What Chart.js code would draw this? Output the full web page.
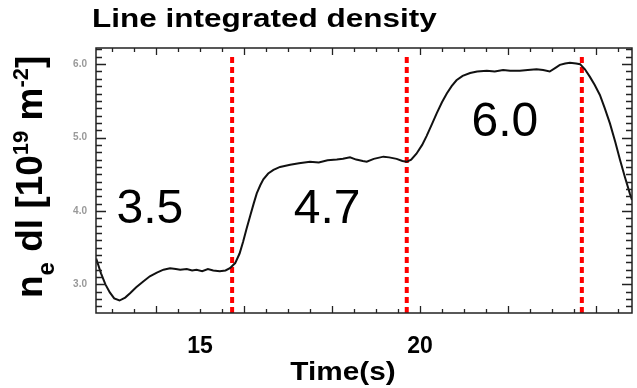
<!DOCTYPE html>
<html>
<head>
<meta charset="utf-8">
<script src="https://cdn.jsdelivr.net/npm/chart.js@4.4.0/dist/chart.umd.min.js"></script>
<style>
  html, body { margin: 0; padding: 0; background: #fff; }
</style>
</head>
<body>
<canvas id="densityChart" width="637" height="388"></canvas>
<script>
// time axis (s) and line integrated density (1e19 m^-2)
const times = [
  12.64, 12.75, 12.85, 12.95, 13.05, 13.17, 13.30, 13.41, 13.55, 13.71,
  13.86, 14.02, 14.17, 14.32, 14.45, 14.55, 14.70, 14.82, 14.92, 15.05,
  15.18, 15.30, 15.45, 15.58, 15.68, 15.80, 15.90, 15.98, 16.06, 16.14,
  16.22, 16.29, 16.37, 16.44, 16.55, 16.67, 16.82, 17.05, 17.25, 17.50,
  17.70, 17.90, 18.11, 18.25, 18.41, 18.55, 18.70, 18.79, 18.95, 19.17,
  19.30, 19.47, 19.60, 19.70, 19.80, 19.92, 20.05, 20.15, 20.27, 20.38,
  20.50, 20.61, 20.72, 20.83, 20.97, 21.14, 21.30, 21.52, 21.70, 21.89,
  22.05, 22.27, 22.45, 22.65, 22.80, 22.95, 23.08, 23.18, 23.30, 23.41,
  23.55, 23.64, 23.75, 23.86, 23.97, 24.09, 24.20, 24.32, 24.44, 24.55,
  24.66, 24.77, 24.82
];
const density = [
  3.35, 3.15, 3.00, 2.89, 2.81, 2.78, 2.82, 2.88, 2.96, 3.04,
  3.11, 3.16, 3.20, 3.22, 3.21, 3.20, 3.21, 3.19, 3.20, 3.18,
  3.21, 3.19, 3.18, 3.19, 3.22, 3.29, 3.42, 3.58, 3.76, 3.93,
  4.10, 4.24, 4.35, 4.43, 4.51, 4.56, 4.60, 4.63, 4.65, 4.67,
  4.66, 4.69, 4.70, 4.71, 4.73, 4.70, 4.68, 4.67, 4.71, 4.74,
  4.73, 4.71, 4.68, 4.67, 4.70, 4.78, 4.90, 5.02, 5.18, 5.33,
  5.48, 5.60, 5.70, 5.78, 5.84, 5.88, 5.90, 5.91, 5.90, 5.92,
  5.91, 5.91, 5.92, 5.93, 5.92, 5.90, 5.95, 5.99, 6.01, 6.02,
  6.01, 6.00, 5.93, 5.83, 5.72, 5.58, 5.40, 5.19, 4.94, 4.69,
  4.46, 4.24, 4.15
];

// phase boundaries (red dotted lines) and the phase values written on the plot
const phaseTimes = [15.73, 19.70, 23.68];
const phaseLabels = ["3.5", "4.7", "6.0"];

// axis ranges and tick labels
const xMin = 12.636, xMax = 24.82;
const yMin = 2.61, yMax = 6.22;
const xTickLabels = [15, 20];
const yTickLabels = [3.0, 4.0, 5.0, 6.0];
const markerTop = 6.12;

const FONT = '"Liberation Sans", Arial, sans-serif';

// where the phase labels sit, in data coordinates
const labelAnchors = [[13.86, 4.01], [17.89, 4.02], [21.93, 5.20]];

// minor tick positions along both axes
const xTickMarks = [];
for (let k = 26; k <= 49; k++) xTickMarks.push(k / 2);
const yTickMarks = [];
for (let k = 27; k <= 62; k++) yTickMarks.push(k / 10);

const frameTicks = {
  id: "frameTicks",
  afterDraw(chart) {
    const { ctx, chartArea: a, scales } = chart;
    ctx.save();
    ctx.strokeStyle = "#222";
    ctx.lineWidth = 1.5;
    ctx.strokeRect(a.left, a.top, a.right - a.left, a.bottom - a.top);
    ctx.lineWidth = 1.3;
    ctx.beginPath();
    xTickMarks.forEach((v) => {
      const px = Math.round(scales.x.getPixelForValue(v)) + 0.5;
      const len = v % 2 === 0 ? 7 : 4;
      ctx.moveTo(px, a.bottom);
      ctx.lineTo(px, a.bottom - len);
      ctx.moveTo(px, a.top);
      ctx.lineTo(px, a.top + len);
    });
    yTickMarks.forEach((v) => {
      const py = Math.round(scales.y.getPixelForValue(v)) + 0.5;
      const len = Math.abs(v - Math.round(v)) < 1e-6 ? 10 : 6;
      ctx.moveTo(a.left, py);
      ctx.lineTo(a.left + len, py);
      ctx.moveTo(a.right, py);
      ctx.lineTo(a.right - len, py);
    });
    ctx.stroke();
    ctx.restore();
  },
};

function stretchedText(ctx, text, x, y, font, sx, align) {
  ctx.save();
  ctx.font = font;
  ctx.translate(x, y);
  ctx.scale(sx, 1);
  ctx.textAlign = align;
  ctx.textBaseline = "alphabetic";
  ctx.fillText(text, 0, 0);
  ctx.restore();
}

const annotations = {
  id: "annotations",
  afterDraw(chart) {
    const { ctx, scales } = chart;
    ctx.save();
    ctx.fillStyle = "#000";

    stretchedText(ctx, "Line integrated density", 92, 27, "bold 25px " + FONT, 1.26, "left");
    stretchedText(ctx, "Time(s)", 343, 380, "bold 25px " + FONT, 1.19, "center");

    // phase values
    ctx.font = "48px " + FONT;
    ctx.textAlign = "center";
    ctx.textBaseline = "middle";
    phaseLabels.forEach((txt, i) => {
      const [t, v] = labelAnchors[i];
      ctx.fillText(txt, scales.x.getPixelForValue(t), scales.y.getPixelForValue(v));
    });

    // y title: n_e dl [10^19 m^-2]
    const parts = [
      ["n", 37, 0], ["e", 24, 12], [" dl [10", 37, 0], ["19", 22, -14],
      [" m", 37, 0], ["-2", 22, -14], ["]", 37, 0],
    ];
    ctx.translate(42, 298);
    ctx.rotate(-Math.PI / 2);
    ctx.textAlign = "left";
    ctx.textBaseline = "alphabetic";
    let cx = 0;
    parts.forEach(([s, size, dy]) => {
      ctx.font = "bold " + size + "px " + FONT;
      ctx.fillText(s, cx, dy);
      cx += ctx.measureText(s).width;
    });
    ctx.restore();
  },
};

const lineData = times.map((t, i) => ({ x: t, y: density[i] }));

const markerSets = phaseTimes.map((t) => ({
  data: [{ x: t, y: yMin }, { x: t, y: markerTop }],
  borderColor: "#ff0000",
  borderWidth: 4,
  borderDash: [6, 4],
  pointRadius: 0,
}));

new Chart(document.getElementById("densityChart"), {
  type: "line",
  data: {
    datasets: [
      {
        data: lineData,
        borderColor: "#111",
        borderWidth: 2,
        pointRadius: 0,
        tension: 0,
      },
      ...markerSets,
    ],
  },
  options: {
    responsive: false,
    animation: false,
    devicePixelRatio: 1,
    layout: { padding: { top: 48, right: 5, left: 0, bottom: 0 } },
    plugins: { legend: { display: false }, tooltip: { enabled: false } },
    scales: {
      x: {
        type: "linear",
        min: xMin,
        max: xMax,
        afterBuildTicks: (axis) => {
          axis.ticks = xTickLabels.map((v) => ({ value: v }));
        },
        afterFit: (axis) => { axis.height = 75; },
        grid: { display: false, drawTicks: false },
        border: { display: false },
        ticks: {
          autoSkip: false,
          maxRotation: 0,
          padding: 20,
          color: "#000",
          font: { family: FONT, size: 23, weight: "bold" },
          callback: (v) => String(v),
        },
      },
      y: {
        min: yMin,
        max: yMax,
        afterBuildTicks: (axis) => {
          axis.ticks = yTickLabels.map((v) => ({ value: v }));
        },
        afterFit: (axis) => { axis.width = 96; },
        grid: { display: false, drawTicks: false },
        border: { display: false },
        ticks: {
          autoSkip: false,
          padding: 9,
          color: "#999",
          font: { family: FONT, size: 10, weight: "bold" },
          callback: (v) => v.toFixed(1),
        },
      },
    },
  },
  plugins: [frameTicks, annotations],
});
</script>
</body>
</html>
